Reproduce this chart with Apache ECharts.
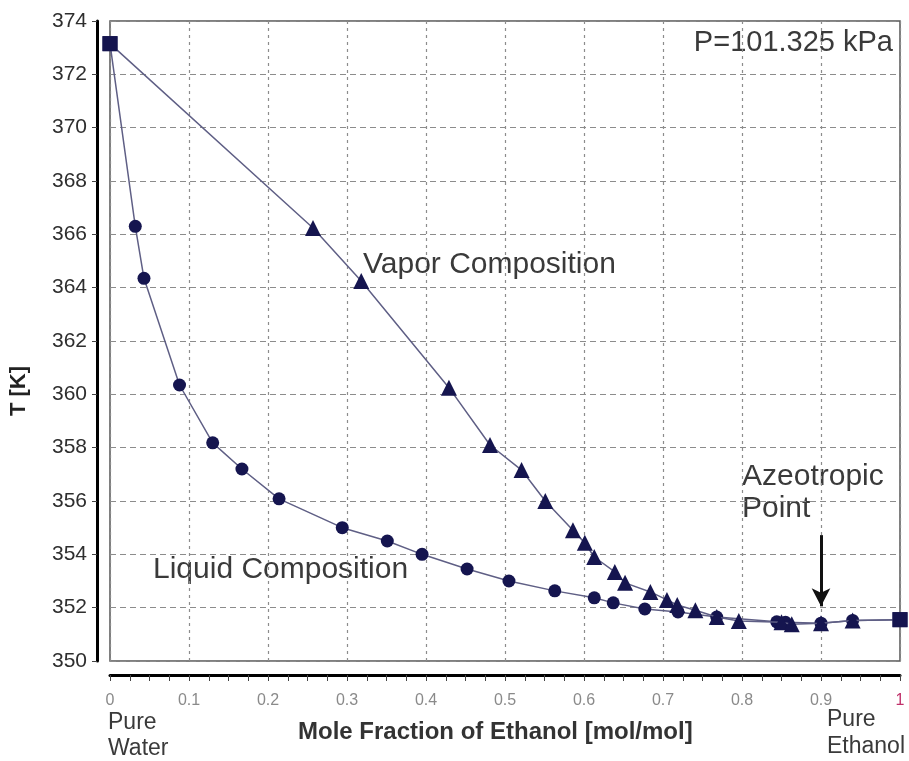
<!DOCTYPE html>
<html lang="en">
<head>
	<meta charset="UTF-8">
	<title>Ethanol-Water T-x-y</title>
	<style>
		html,body{background-color:#fff;height:100%;overflow:hidden;margin:0;padding:0;}
		#main{width:909px;height:761px;}
	</style>
</head>
<body>
	<div id="main"></div>
	<script src="https://cdn.jsdelivr.net/npm/echarts@6/dist/echarts.min.js"></script>
	<script>
		// liquid composition (bubble curve)
		var liquidX = [0, 0.032, 0.043, 0.088, 0.130, 0.167, 0.214, 0.294, 0.351, 0.395, 0.452, 0.505, 0.563, 0.613, 0.637, 0.677, 0.719, 0.768, 0.844, 0.855, 0.9, 0.94, 1.0];
		var liquidT = [373.15, 366.3, 364.35, 360.35, 358.18, 357.2, 356.08, 355.0, 354.5, 354.0, 353.45, 353.0, 352.63, 352.37, 352.18, 351.95, 351.84, 351.65, 351.47, 351.45, 351.42, 351.52, 351.55];
		// vapor composition (dew curve)
		var vaporX = [0, 0.257, 0.318, 0.429, 0.481, 0.521, 0.551, 0.586, 0.601, 0.613, 0.639, 0.652, 0.684, 0.705, 0.718, 0.741, 0.768, 0.796, 0.85, 0.863, 0.9, 0.94, 1.0];
		var vaporT = [373.15, 366.24, 364.25, 360.25, 358.1, 357.16, 356.0, 354.9, 354.43, 353.9, 353.34, 352.93, 352.59, 352.29, 352.1, 351.9, 351.65, 351.5, 351.45, 351.38, 351.42, 351.52, 351.55];
		// azeotrope arrow, from / to temperature at x = 0.9
		var azeoX = 0.9;
		var azeoArrowT = [354.72, 352.05];

		var markColor = '#15154f';
		var lineColor = '#5f5f85';
		var font = "'Liberation Sans', Arial, sans-serif";

		function buildData(xs, ts){
			var out = [];
			for (var i = 0; i < xs.length; i++){
				var item = {value: [xs[i], ts[i]]};
				if (i === 0 || i === xs.length - 1){
					item.symbol = 'rect';
					item.symbolSize = 15;
				}
				out.push(item);
			}
			return out;
		}

		var chart = echarts.init(document.getElementById('main'));
		var option = {
			animation: false,
			backgroundColor: '#fff',
			grid: {
				left: 110, right: 9, top: 21, bottom: 100,
				show: true,
				borderColor: '#555',
				borderWidth: 1.5
			},
			xAxis: {
				type: 'value',
				min: 0, max: 1, interval: 0.1,
				offset: 14,
				axisLine: {show: true, onZero: false, lineStyle: {color: '#000', width: 3}},
				axisTick: {show: true, length: 6, lineStyle: {color: '#444', width: 1}},
				minorTick: {show: true, splitNumber: 4, length: 6, lineStyle: {color: '#444', width: 1}},
				axisLabel: {
					margin: 18, fontSize: 16, color: '#8a8a8a', fontFamily: font,
					formatter: function(v){
						if (v === 1) return '{m|1}';
						return String(+v.toFixed(1));
					},
					rich: {m: {color: '#c0306a', fontSize: 16, fontFamily: font}}
				},
				splitLine: {show: true, lineStyle: {color: '#8c8c8c', type: [3, 4], width: 1.2}}
			},
			yAxis: {
				type: 'value',
				min: 350, max: 374, interval: 2,
				offset: 13,
				axisLine: {show: true, onZero: false, lineStyle: {color: '#000', width: 3}},
				axisTick: {show: true, length: 5, lineStyle: {color: '#444', width: 1}},
				axisLabel: {margin: 10, fontSize: 21, color: '#2e2e2e', fontFamily: font},
				splitLine: {show: true, lineStyle: {color: '#8c8c8c', type: [6, 4], width: 1.2}}
			},
			series: [{
				name: 'Liquid Composition',
				type: 'line',
				data: buildData(liquidX, liquidT),
				symbol: 'circle',
				symbolSize: 13,
				itemStyle: {color: markColor},
				lineStyle: {color: lineColor, width: 1.5},
				z: 3
			}, {
				name: 'Vapor Composition',
				type: 'line',
				data: buildData(vaporX, vaporT),
				symbol: 'triangle',
				symbolSize: 16,
				itemStyle: {color: markColor},
				lineStyle: {color: lineColor, width: 1.5},
				z: 4,
				markLine: {
					silent: true,
					symbol: ['none', 'arrow'],
					symbolSize: [14, 18],
					label: {show: false},
					lineStyle: {color: '#111', width: 3, type: 'solid'},
					data: [[{coord: [azeoX, azeoArrowT[0]]}, {coord: [azeoX, azeoArrowT[1]]}]]
				}
			}],
			graphic: [
				{type: 'text', right: 16, top: 28, style: {text: 'P=101.325 kPa', font: '29px ' + font, fill: '#3a3a3a'}},
				{type: 'text', left: 363, top: 250, style: {text: 'Vapor Composition', font: '30px ' + font, fill: '#3a3a3a'}},
				{type: 'text', left: 153, top: 555, style: {text: 'Liquid Composition', font: '30px ' + font, fill: '#3a3a3a'}},
				{type: 'text', left: 742, top: 462, style: {text: 'Azeotropic', font: '30px ' + font, fill: '#3a3a3a'}},
				{type: 'text', left: 742, top: 494, style: {text: 'Point', font: '30px ' + font, fill: '#3a3a3a'}},
				{type: 'text', left: 108, top: 710, style: {text: 'Pure\nWater', font: '23px ' + font, fill: '#3a3a3a', lineHeight: 26}},
				{type: 'text', right: 4, top: 706, style: {text: 'Pure\nEthanol', font: '23px ' + font, fill: '#3a3a3a', lineHeight: 27, align: 'right'}},
				{type: 'text', left: 298, top: 720, style: {text: 'Mole Fraction of Ethanol [mol/mol]', font: 'bold 24px ' + font, fill: '#333'}},
				{type: 'text', left: 8, top: 366, rotation: Math.PI / 2, style: {text: 'T [K]', font: 'bold 22px ' + font, fill: '#222'}}
			]
		};
		chart.setOption(option);
	</script>
</body>
</html>
